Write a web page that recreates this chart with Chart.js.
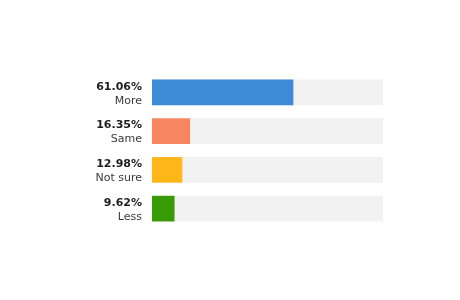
<!DOCTYPE html>
<html><head><meta charset="utf-8">
<script src="https://cdn.jsdelivr.net/npm/chart.js@4/dist/chart.umd.min.js"></script>
<style>html,body{margin:0;padding:0;background:#fff}canvas{display:block}</style>
</head><body>
<canvas id="c" width="460" height="300"></canvas>
<script>
const categories = ["More", "Same", "Not sure", "Less"];
const values = [61.06, 16.35, 12.98, 9.62];
const colors = ["#3d8bd6", "#f88662", "#ffb619", "#389b05"];
const trackMax = 100;

const labelPlugin = {
  id: 'sideLabels',
  afterDatasetsDraw(chart) {
    const ctx = chart.ctx;
    const y = chart.scales.y;
    const x0 = chart.chartArea.left - 10;
    ctx.save();
    ctx.textAlign = 'right';
    ctx.textBaseline = 'middle';
    categories.forEach((c, i) => {
      const cy = y.getPixelForValue(i);
      ctx.font = 'bold 11px "DejaVu Sans"';
      ctx.fillStyle = '#1e1e1e';
      ctx.fillText(values[i].toFixed(2) + '%', x0, cy - 5.5);
      ctx.font = '11px "DejaVu Sans"';
      ctx.fillStyle = '#3a3a3a';
      ctx.fillText(c, x0, cy + 8.5);
    });
    ctx.restore();
  }
};

new Chart(document.getElementById('c'), {
  type: 'bar',
  data: {
    labels: categories,
    datasets: [
      { data: values, backgroundColor: colors, grouped: false, barThickness: 25, order: 0 },
      { data: categories.map(() => trackMax), backgroundColor: '#f2f2f2', grouped: false, barThickness: 25, order: 1 }
    ]
  },
  options: {
    indexAxis: 'y',
    responsive: false,
    animation: false,
    layout: { padding: { left: 152, right: 77, top: 73, bottom: 72 } },
    scales: {
      x: { display: false, min: 0, max: trackMax },
      y: { display: false }
    },
    plugins: { legend: { display: false }, tooltip: { enabled: false } }
  },
  plugins: [labelPlugin]
});
</script>
</body></html>
